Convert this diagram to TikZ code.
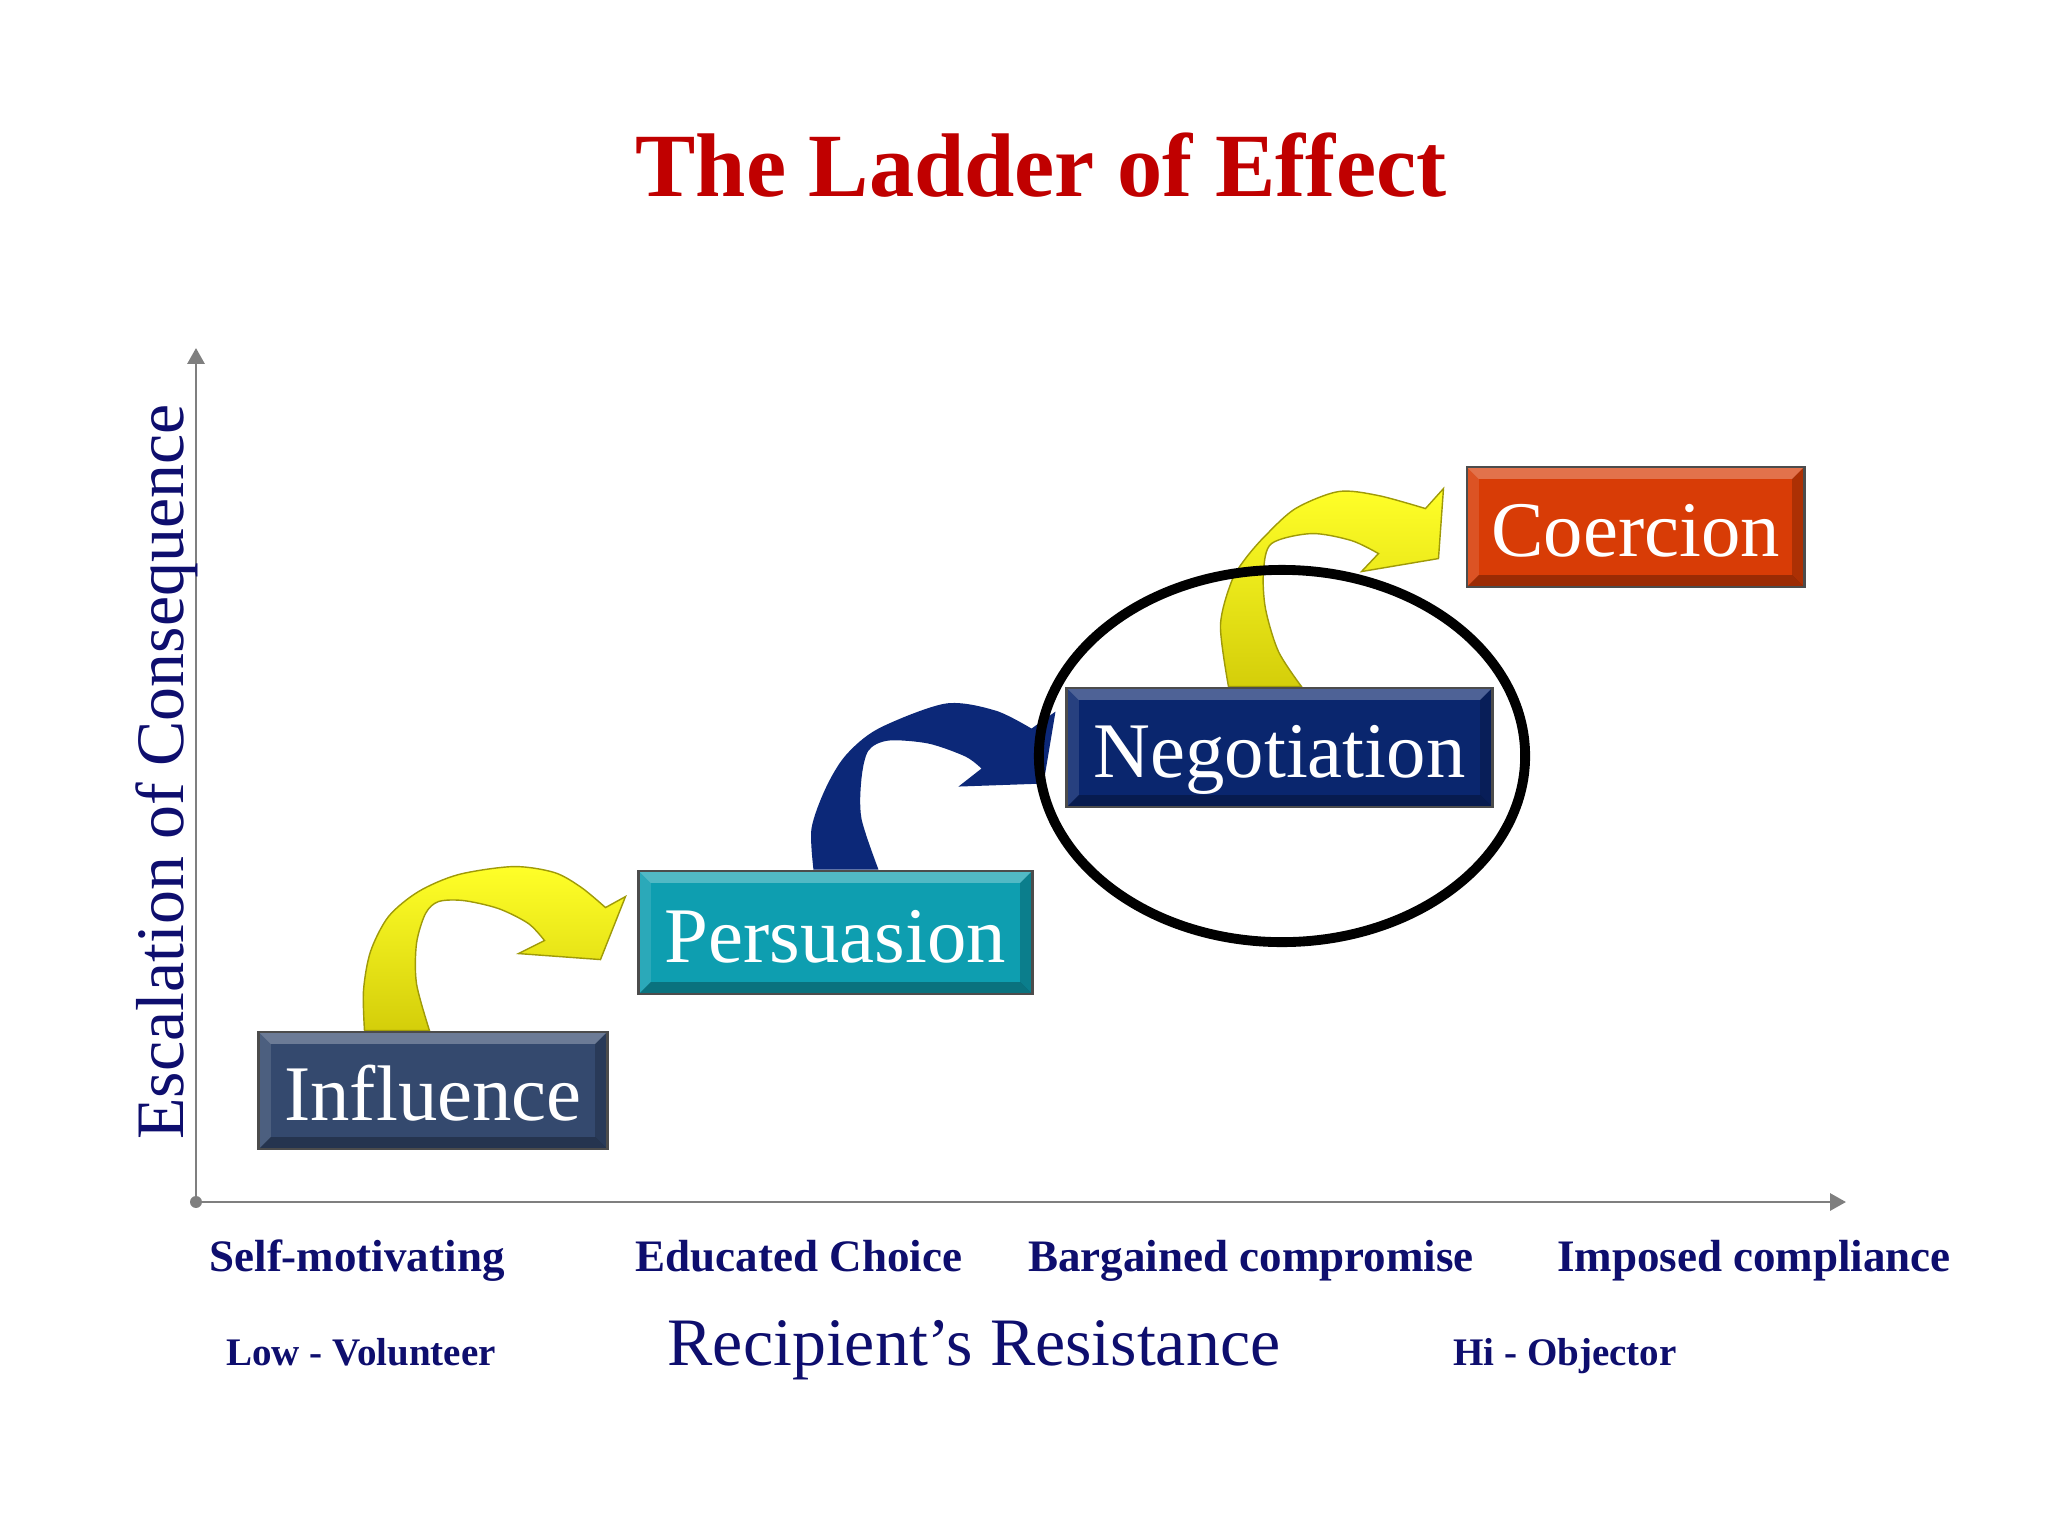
\documentclass[tikz,border=0pt]{standalone}
\usepackage{fontspec}
\setmainfont{Liberation Serif}
\definecolor{ldred}{RGB}{192,0,0}
\definecolor{ldnavy}{RGB}{14,14,110}
\definecolor{ldslate}{RGB}{52,73,110}
\definecolor{ldteal}{RGB}{14,158,176}
\definecolor{ldblue}{RGB}{10,38,110}
\definecolor{ldorange}{RGB}{216,60,6}
\definecolor{ldarrow}{RGB}{12,40,120}
\definecolor{ldyellow}{RGB}{255,255,40}
\definecolor{ldolive}{RGB}{212,206,10}
\definecolor{ldaxis}{RGB}{127,127,127}
\usetikzlibrary{arrows.meta,calc,backgrounds}

\tikzset{
  rung/.style={draw=black!70, line width=0.8pt, text=white, inner sep=0pt,
    font=\fontsize{22.4}{26}\selectfont, text height=22pt, text depth=5pt,
    path picture={
      \fill[white,opacity=.28] (path picture bounding box.north west) -- (path picture bounding box.north east)
        -- ([xshift=-3.4pt,yshift=-3.4pt]path picture bounding box.north east) -- ([xshift=3.4pt,yshift=-3.4pt]path picture bounding box.north west) -- cycle;
      \fill[white,opacity=.12] (path picture bounding box.north west) -- ([xshift=3.4pt,yshift=-3.4pt]path picture bounding box.north west)
        -- ([xshift=3.4pt,yshift=3.4pt]path picture bounding box.south west) -- (path picture bounding box.south west) -- cycle;
      \fill[black,opacity=.28] (path picture bounding box.south west) -- (path picture bounding box.south east)
        -- ([xshift=-3.4pt,yshift=3.4pt]path picture bounding box.south east) -- ([xshift=3.4pt,yshift=3.4pt]path picture bounding box.south west) -- cycle;
      \fill[black,opacity=.2] (path picture bounding box.north east) -- ([xshift=-3.4pt,yshift=-3.4pt]path picture bounding box.north east)
        -- ([xshift=-3.4pt,yshift=3.4pt]path picture bounding box.south east) -- (path picture bounding box.south east) -- cycle;
    }},
  yarrow/.style={top color=ldyellow, bottom color=ldolive, draw=ldolive!75!black, line width=0.4pt},
  barrow/.style={fill=ldarrow},
  stage/.style={font=\fontsize{12.8}{15}\selectfont\bfseries, text=ldnavy, inner sep=0pt, anchor=base},
  pole/.style={font=\fontsize{11.1}{13}\selectfont\bfseries, text=ldnavy, inner sep=0pt, anchor=base},
  axlabel/.style={font=\fontsize{19.3}{22}\selectfont, text=ldnavy, inner sep=0pt, anchor=base},
  axis/.style={draw=ldaxis, line width=0.8pt, -{Triangle[width=4.8pt,length=4.5pt]}},
  ring/.style={draw=black, line width=2.8pt}
}

\begin{document}
\begin{tikzpicture}[x=0.01cm,y=-0.01cm]
  \useasboundingbox (0,0) rectangle (2048,1536);

  % Title
  \node[font=\fontsize{25.7}{30}\selectfont\bfseries, text=ldred, inner sep=0pt, anchor=base] (title) at (1041,196) {The Ladder of Effect};

  % Axes
  \coordinate (O) at (196,1202);
  \coordinate (xend) at (1846,1202);
  \coordinate (yend) at (196,348);
  \draw[axis] (O) -- (xend);
  \draw[axis] (O) -- (yend);
  \fill[ldaxis] (O) circle (1.7pt);
  \node[axlabel, rotate=90] (esc) at (183,772) {Escalation of Consequence};

  % Rungs of the ladder
  \node[rung, fill=ldslate, minimum width=3.48cm, minimum height=1.17cm] (infl) at (433,1090.5) {Influence};
  \node[rung, fill=ldteal, minimum width=3.93cm, minimum height=1.23cm] (pers) at (835.5,932.5) {Persuasion};
  \node[rung, fill=ldblue, minimum width=4.25cm, minimum height=1.19cm] (nego) at (1279.5,747.5) {Negotiation};
  \node[rung, fill=ldorange, minimum width=3.37cm, minimum height=1.20cm] (coer) at (1635.5,527) {Coercion};

  % Curved arrows between rungs
  \begin{pgfonlayer}{background}
    \fill[white] (0,0) rectangle (2048,1536);
    \begin{scope}[shift={(infl.north west)}]
      \path[yarrow] plot[smooth] coordinates {(107,0) (106,-40) (113,-79) (131,-114) (161,-139) (201,-156) (256,-164) (297,-158) (324,-143) (348,-123)}
        -- (368,-134) -- (343,-71) -- (261,-77) -- (287,-90)
        -- plot[smooth] coordinates {(287,-90) (271,-107) (241,-122) (206,-130) (181,-129) (168,-117) (159,-87) (159,-47) (172,0)} -- cycle;
    \end{scope}
    \begin{scope}[shift={(pers.north west)}]
      \path[barrow] plot[smooth] coordinates {(176,0) (174,-41) (188,-81) (208,-114) (241,-141) (308,-166) (358,-159) (394,-141)}
        -- (418,-158) -- (406,-86) -- (321,-83) -- (344,-101)
        -- plot[smooth] coordinates {(344,-101) (328,-113) (291,-126) (251,-129) (231,-119) (224,-91) (224,-51) (241,0)} -- cycle;
    \end{scope}
    \begin{scope}[shift={(nego.north west)}]
      \path[yarrow] plot[smooth] coordinates {(163,0) (155,-61) (166,-105) (180,-128) (200,-151) (230,-178) (273,-195) (313,-191) (360,-178)}
        -- (378,-198) -- (373,-128) -- (296,-115) -- (313,-133)
        -- plot[smooth] coordinates {(313,-133) (286,-146) (246,-153) (206,-143) (198,-115) (200,-78) (213,-35) (236,0)} -- cycle;
    \end{scope}
  \end{pgfonlayer}

  % Highlight round the current rung
  \draw[ring] ($(nego.center)+(2.5,8.5)$) ellipse [x radius=2.43cm, y radius=1.86cm];

  % Labels under the axis
  \node[stage] (self) at (357,1271) {Self-motivating};
  \node[stage] (educ) at (799,1271) {Educated Choice};
  \node[stage] (barg) at (1251,1271) {Bargained compromise};
  \node[stage] (impo) at (1754,1271) {Imposed compliance};
  \node[pole] (low) at (361,1365) {Low - Volunteer};
  \node[axlabel] (resist) at (974,1365) {Recipient’s Resistance};
  \node[pole] (hi) at (1565,1365) {Hi - Objector};
\end{tikzpicture}
\end{document}
